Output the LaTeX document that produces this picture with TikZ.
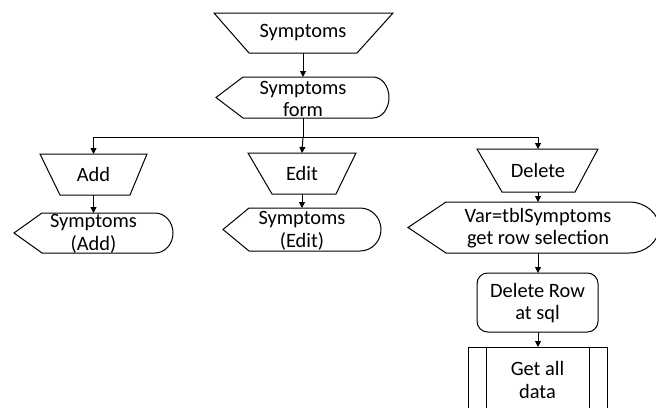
\documentclass[tikz,border=0pt]{standalone}
\usepackage{fontspec}
\setmainfont{Carlito}
\usetikzlibrary{arrows.meta}
\begin{document}
\begin{tikzpicture}[x=0.75pt,y=-0.75pt,line width=0.75pt,
  flow/.style={-{Triangle[length=4.5pt,width=4.5pt]}},
  lbl/.style={font=\fontsize{15.3}{17}\selectfont,align=center,inner sep=0pt},
  outline/.style={draw=black,fill=white,line join=miter}]
\useasboundingbox (0,0) rectangle (656,407);
\clip (0,0) rectangle (656,407);

% --- Symptoms (manual input)
\draw[outline] (214,13) -- (393,13) -- (357,53) -- (249,53) -- cycle;
\node[lbl] (sym) at (303,33) {Symptoms};
\coordinate (symB) at (303,53);

% --- Symptoms form (display)
\draw[outline] (216,97.5) -- (243,77) -- (373,77)
  arc[start angle=-90,end angle=90,x radius=16,y radius=20.5]
  -- (243,118) -- cycle;
\node[lbl] (form) at (303,99) {Symptoms\\form};
\coordinate (formT) at (303,77);
\coordinate (formB) at (303,118);

% --- branch bus
\coordinate (busL) at (93.5,137);
\coordinate (busM) at (303,137);
\coordinate (busR) at (538,137);

% --- Add
\draw[outline] (40,154) -- (147,154) -- (130,195) -- (60,195) -- cycle;
\node[lbl] (add) at (93.5,174) {Add};
\coordinate (addT) at (93.5,154);
\coordinate (addB) at (93.5,195);
\draw[outline] (14,233) -- (42,213) -- (155,213)
  arc[start angle=-90,end angle=90,x radius=18,y radius=20]
  -- (42,253) -- cycle;
\node[lbl] (addshow) at (93.5,234) {Symptoms\\(Add)};
\coordinate (addshowT) at (93.5,213);

% --- Edit
\draw[outline] (248,153) -- (356,153) -- (336,194) -- (272,194) -- cycle;
\node[lbl] (edit) at (302,173) {Edit};
\coordinate (editT) at (302,153);
\coordinate (editB) at (302,194);
\draw[outline] (223,229.5) -- (249,208) -- (360,208)
  arc[start angle=-90,end angle=90,x radius=21,y radius=21.5]
  -- (249,251) -- cycle;
\node[lbl] (editshow) at (302,231) {Symptoms\\(Edit)};
\coordinate (editshowT) at (302,208);

% --- Delete
\draw[outline] (477,149) -- (598,149) -- (575,192) -- (502,192) -- cycle;
\node[lbl] (del) at (538,170) {Delete};
\coordinate (delT) at (538,149);
\coordinate (delB) at (538,192);
\draw[outline] (408,227.5) -- (446,202) -- (629,202)
  arc[start angle=-90,end angle=90,x radius=30,y radius=25.5]
  -- (446,253) -- cycle;
\node[lbl] (sel) at (538,228) {Var=tblSymptoms\\get row selection};
\coordinate (selT) at (538,202);
\coordinate (selB) at (538,253);

% --- Delete Row at sql (process)
\draw[outline,rounded corners=8] (477,273) rectangle (598,332);
\node[lbl] (delrow) at (537.5,303) {Delete Row\\at sql};
\coordinate (delrowT) at (538,273);
\coordinate (delrowB) at (538,332);

% --- Get all data (predefined process)
\draw[outline] (468,347) rectangle (607,414);
\draw (486,347) -- (486,414) (589,347) -- (589,414);
\node[lbl] (getall) at (537.5,380) {Get all\\data};
\coordinate (getallT) at (538,347);

% --- connectors
\draw[flow] (symB) -- (formT);
\draw (formB) -- (busM);
\draw (busL) -- (busR);
\draw[flow] (busL) -- (addT);
\draw[flow] (busM) -- (editT);
\draw[flow] (busR) -- (delT);
\draw[flow] (addB) -- (addshowT);
\draw[flow] (editB) -- (editshowT);
\draw[flow] (delB) -- (selT);
\draw[flow] (selB) -- (delrowT);
\draw[flow] (delrowB) -- (getallT);
\end{tikzpicture}
\end{document}
